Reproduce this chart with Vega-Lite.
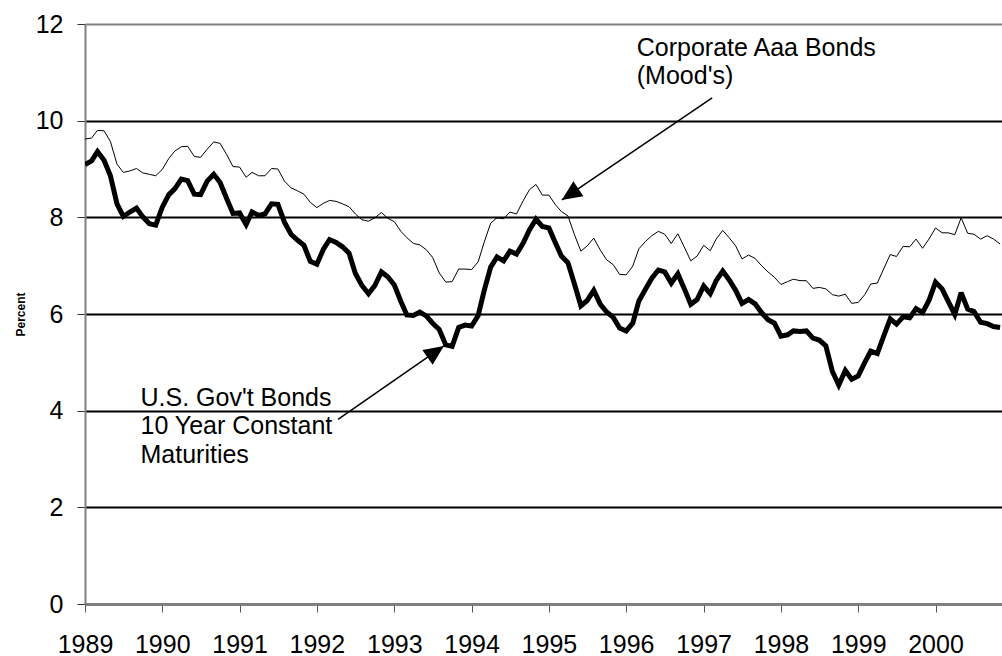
{
  "$schema": "https://vega.github.io/schema/vega-lite/v6.json",
  "width": 917,
  "height": 580,
  "autosize": {"type": "none"},
  "padding": {"left": 85, "top": 24, "right": 0, "bottom": 52},
  "background": "white",
  "config": {
    "font": "Liberation Sans",
    "view": {"stroke": null},
    "axis": {"labelColor": "black", "titleColor": "black", "labelFont": "Liberation Sans", "titleFont": "Liberation Sans"}
  },
  "datasets": {
    "series": [
      {"date":"1989-01-01","gov":9.09,"aaa":9.62},{"date":"1989-02-01","gov":9.17,"aaa":9.64},{"date":"1989-03-01","gov":9.36,"aaa":9.80},{"date":"1989-04-01","gov":9.18,"aaa":9.79},{"date":"1989-05-01","gov":8.86,"aaa":9.57},{"date":"1989-06-01","gov":8.28,"aaa":9.10},{"date":"1989-07-01","gov":8.02,"aaa":8.93},{"date":"1989-08-01","gov":8.11,"aaa":8.96},{"date":"1989-09-01","gov":8.19,"aaa":9.01},{"date":"1989-10-01","gov":8.01,"aaa":8.92},{"date":"1989-11-01","gov":7.87,"aaa":8.89},{"date":"1989-12-01","gov":7.84,"aaa":8.86},
      {"date":"1990-01-01","gov":8.21,"aaa":8.99},{"date":"1990-02-01","gov":8.47,"aaa":9.22},{"date":"1990-03-01","gov":8.59,"aaa":9.37},{"date":"1990-04-01","gov":8.79,"aaa":9.46},{"date":"1990-05-01","gov":8.76,"aaa":9.47},{"date":"1990-06-01","gov":8.48,"aaa":9.26},{"date":"1990-07-01","gov":8.47,"aaa":9.24},{"date":"1990-08-01","gov":8.75,"aaa":9.41},{"date":"1990-09-01","gov":8.89,"aaa":9.56},{"date":"1990-10-01","gov":8.72,"aaa":9.53},{"date":"1990-11-01","gov":8.39,"aaa":9.30},{"date":"1990-12-01","gov":8.08,"aaa":9.05},
      {"date":"1991-01-01","gov":8.09,"aaa":9.04},{"date":"1991-02-01","gov":7.85,"aaa":8.83},{"date":"1991-03-01","gov":8.11,"aaa":8.93},{"date":"1991-04-01","gov":8.04,"aaa":8.86},{"date":"1991-05-01","gov":8.07,"aaa":8.86},{"date":"1991-06-01","gov":8.28,"aaa":9.01},{"date":"1991-07-01","gov":8.27,"aaa":9.00},{"date":"1991-08-01","gov":7.90,"aaa":8.75},{"date":"1991-09-01","gov":7.65,"aaa":8.61},{"date":"1991-10-01","gov":7.53,"aaa":8.55},{"date":"1991-11-01","gov":7.42,"aaa":8.48},{"date":"1991-12-01","gov":7.09,"aaa":8.31},
      {"date":"1992-01-01","gov":7.03,"aaa":8.20},{"date":"1992-02-01","gov":7.34,"aaa":8.29},{"date":"1992-03-01","gov":7.54,"aaa":8.35},{"date":"1992-04-01","gov":7.48,"aaa":8.33},{"date":"1992-05-01","gov":7.39,"aaa":8.28},{"date":"1992-06-01","gov":7.26,"aaa":8.22},{"date":"1992-07-01","gov":6.84,"aaa":8.07},{"date":"1992-08-01","gov":6.59,"aaa":7.95},{"date":"1992-09-01","gov":6.42,"aaa":7.92},{"date":"1992-10-01","gov":6.59,"aaa":7.99},{"date":"1992-11-01","gov":6.87,"aaa":8.10},{"date":"1992-12-01","gov":6.77,"aaa":7.98},
      {"date":"1993-01-01","gov":6.60,"aaa":7.91},{"date":"1993-02-01","gov":6.26,"aaa":7.71},{"date":"1993-03-01","gov":5.98,"aaa":7.58},{"date":"1993-04-01","gov":5.97,"aaa":7.46},{"date":"1993-05-01","gov":6.04,"aaa":7.43},{"date":"1993-06-01","gov":5.96,"aaa":7.33},{"date":"1993-07-01","gov":5.81,"aaa":7.17},{"date":"1993-08-01","gov":5.68,"aaa":6.85},{"date":"1993-09-01","gov":5.36,"aaa":6.66},{"date":"1993-10-01","gov":5.33,"aaa":6.67},{"date":"1993-11-01","gov":5.72,"aaa":6.93},{"date":"1993-12-01","gov":5.77,"aaa":6.93},
      {"date":"1994-01-01","gov":5.75,"aaa":6.92},{"date":"1994-02-01","gov":5.97,"aaa":7.08},{"date":"1994-03-01","gov":6.48,"aaa":7.48},{"date":"1994-04-01","gov":6.97,"aaa":7.88},{"date":"1994-05-01","gov":7.18,"aaa":7.99},{"date":"1994-06-01","gov":7.10,"aaa":7.97},{"date":"1994-07-01","gov":7.30,"aaa":8.11},{"date":"1994-08-01","gov":7.24,"aaa":8.07},{"date":"1994-09-01","gov":7.46,"aaa":8.34},{"date":"1994-10-01","gov":7.74,"aaa":8.57},{"date":"1994-11-01","gov":7.96,"aaa":8.68},{"date":"1994-12-01","gov":7.81,"aaa":8.46},
      {"date":"1995-01-01","gov":7.78,"aaa":8.46},{"date":"1995-02-01","gov":7.47,"aaa":8.26},{"date":"1995-03-01","gov":7.20,"aaa":8.12},{"date":"1995-04-01","gov":7.06,"aaa":8.03},{"date":"1995-05-01","gov":6.63,"aaa":7.65},{"date":"1995-06-01","gov":6.17,"aaa":7.30},{"date":"1995-07-01","gov":6.28,"aaa":7.41},{"date":"1995-08-01","gov":6.49,"aaa":7.57},{"date":"1995-09-01","gov":6.20,"aaa":7.32},{"date":"1995-10-01","gov":6.04,"aaa":7.12},{"date":"1995-11-01","gov":5.93,"aaa":7.02},{"date":"1995-12-01","gov":5.71,"aaa":6.82},
      {"date":"1996-01-01","gov":5.65,"aaa":6.81},{"date":"1996-02-01","gov":5.81,"aaa":6.99},{"date":"1996-03-01","gov":6.27,"aaa":7.35},{"date":"1996-04-01","gov":6.51,"aaa":7.50},{"date":"1996-05-01","gov":6.74,"aaa":7.62},{"date":"1996-06-01","gov":6.91,"aaa":7.71},{"date":"1996-07-01","gov":6.87,"aaa":7.65},{"date":"1996-08-01","gov":6.64,"aaa":7.46},{"date":"1996-09-01","gov":6.83,"aaa":7.66},{"date":"1996-10-01","gov":6.53,"aaa":7.39},{"date":"1996-11-01","gov":6.20,"aaa":7.10},{"date":"1996-12-01","gov":6.30,"aaa":7.20},
      {"date":"1997-01-01","gov":6.58,"aaa":7.42},{"date":"1997-02-01","gov":6.42,"aaa":7.31},{"date":"1997-03-01","gov":6.69,"aaa":7.55},{"date":"1997-04-01","gov":6.89,"aaa":7.73},{"date":"1997-05-01","gov":6.71,"aaa":7.58},{"date":"1997-06-01","gov":6.49,"aaa":7.41},{"date":"1997-07-01","gov":6.22,"aaa":7.14},{"date":"1997-08-01","gov":6.30,"aaa":7.22},{"date":"1997-09-01","gov":6.21,"aaa":7.15},{"date":"1997-10-01","gov":6.03,"aaa":7.00},{"date":"1997-11-01","gov":5.88,"aaa":6.87},{"date":"1997-12-01","gov":5.81,"aaa":6.76},
      {"date":"1998-01-01","gov":5.54,"aaa":6.61},{"date":"1998-02-01","gov":5.57,"aaa":6.67},{"date":"1998-03-01","gov":5.65,"aaa":6.72},{"date":"1998-04-01","gov":5.64,"aaa":6.69},{"date":"1998-05-01","gov":5.65,"aaa":6.69},{"date":"1998-06-01","gov":5.50,"aaa":6.53},{"date":"1998-07-01","gov":5.46,"aaa":6.55},{"date":"1998-08-01","gov":5.34,"aaa":6.52},{"date":"1998-09-01","gov":4.81,"aaa":6.40},{"date":"1998-10-01","gov":4.53,"aaa":6.37},{"date":"1998-11-01","gov":4.83,"aaa":6.41},{"date":"1998-12-01","gov":4.65,"aaa":6.22},
      {"date":"1999-01-01","gov":4.72,"aaa":6.24},{"date":"1999-02-01","gov":5.00,"aaa":6.40},{"date":"1999-03-01","gov":5.23,"aaa":6.62},{"date":"1999-04-01","gov":5.18,"aaa":6.64},{"date":"1999-05-01","gov":5.54,"aaa":6.93},{"date":"1999-06-01","gov":5.90,"aaa":7.23},{"date":"1999-07-01","gov":5.79,"aaa":7.19},{"date":"1999-08-01","gov":5.94,"aaa":7.40},{"date":"1999-09-01","gov":5.92,"aaa":7.39},{"date":"1999-10-01","gov":6.11,"aaa":7.55},{"date":"1999-11-01","gov":6.03,"aaa":7.36},{"date":"1999-12-01","gov":6.28,"aaa":7.55},
      {"date":"2000-01-01","gov":6.66,"aaa":7.78},{"date":"2000-02-01","gov":6.52,"aaa":7.68},{"date":"2000-03-01","gov":6.26,"aaa":7.68},{"date":"2000-04-01","gov":5.99,"aaa":7.64},{"date":"2000-05-01","gov":6.44,"aaa":7.99},{"date":"2000-06-01","gov":6.10,"aaa":7.67},{"date":"2000-07-01","gov":6.05,"aaa":7.65},{"date":"2000-08-01","gov":5.83,"aaa":7.55},{"date":"2000-09-01","gov":5.80,"aaa":7.62},{"date":"2000-10-01","gov":5.74,"aaa":7.55},{"date":"2000-11-01","gov":5.72,"aaa":7.45}
    ],
    "notes": [
      {"date":"1996-02-20","value":11.34,"label":"Corporate Aaa Bonds\n(Mood's)"},
      {"date":"1989-09-20","value":4.10,"label":"U.S. Gov't Bonds\n10 Year Constant\nMaturities"}
    ],
    "arrows": [
      {"id":"aaa","date":"1997-02-10","value":10.47,"date2":"1995-03-03","value2":8.36},
      {"id":"gov","date":"1992-04-10","value":3.82,"date2":"1993-08-23","value2":5.34}
    ]
  },
  "encoding": {
    "x": {
      "field": "date",
      "type": "temporal",
      "scale": {"type": "utc", "domain": [{"year": 1989, "month": 1, "date": 1, "utc": true}, {"year": 2000, "month": 11, "date": 10, "utc": true}]},
      "axis": {
        "values": [
          {"year":1989,"utc":true},{"year":1990,"utc":true},{"year":1991,"utc":true},{"year":1992,"utc":true},{"year":1993,"utc":true},{"year":1994,"utc":true},{"year":1995,"utc":true},{"year":1996,"utc":true},{"year":1997,"utc":true},{"year":1998,"utc":true},{"year":1999,"utc":true},{"year":2000,"utc":true}
        ],
        "format": "%Y",
        "title": null,
        "grid": false,
        "labelFontSize": 25,
        "labelPadding": 20,
        "labelFlush": false,
        "labelOverlap": false,
        "tickSize": 8,
        "tickColor": "#555555",
        "tickWidth": 1,
        "domainColor": "#808080",
        "domainWidth": 2
      }
    }
  },
  "layer": [
    {
      "data": {"name": "series"},
      "mark": {"type": "line", "color": "black", "strokeWidth": 5, "clip": true, "strokeJoin": "miter", "strokeMiterLimit": 3},
      "encoding": {
        "y": {
          "field": "gov",
          "type": "quantitative",
          "scale": {"domain": [0, 12], "nice": false, "zero": true},
          "axis": {
            "values": [0, 2, 4, 6, 8, 10, 12],
            "title": "Percent",
            "titleFontSize": 12,
            "titleFontWeight": "bold",
            "titlePadding": 8,
            "labelFontSize": 25,
            "labelPadding": 14,
            "tickSize": 8,
            "tickColor": "#333333",
            "tickWidth": 1,
            "domainColor": "#808080",
            "domainWidth": 2,
            "grid": true,
            "gridWidth": 2,
            "gridOpacity": 1,
            "gridColor": {"condition": {"test": "datum.value == 12", "value": "#808080"}, "value": "black"}
          }
        }
      }
    },
    {
      "data": {"name": "series"},
      "mark": {"type": "line", "color": "black", "strokeWidth": 1, "clip": true},
      "encoding": {
        "y": {"field": "aaa", "type": "quantitative"}
      }
    },
    {
      "data": {"name": "notes"},
      "mark": {"type": "text", "align": "left", "baseline": "alphabetic", "fontSize": 25, "lineBreak": "\n", "lineHeight": 28.5, "color": "black"},
      "encoding": {
        "y": {"field": "value", "type": "quantitative"},
        "text": {"field": "label"}
      }
    },
    {
      "data": {"name": "arrows"},
      "mark": {"type": "rule", "color": "black", "strokeWidth": 1.5},
      "encoding": {
        "y": {"field": "value", "type": "quantitative"},
        "x2": {"field": "date2"},
        "y2": {"field": "value2"}
      }
    },
    {
      "data": {"name": "arrows"},
      "transform": [{"filter": "datum.id == 'aaa'"}],
      "mark": {"type": "point", "shape": "M0,0L-0.45,1L0.45,1Z", "filled": true, "color": "black", "opacity": 1, "size": 1600, "angle": 236},
      "encoding": {
        "x": {"field": "date2", "type": "temporal"},
        "y": {"field": "value2", "type": "quantitative"}
      }
    },
    {
      "data": {"name": "arrows"},
      "transform": [{"filter": "datum.id == 'gov'"}],
      "mark": {"type": "point", "shape": "M0,0L-0.45,1L0.45,1Z", "filled": true, "color": "black", "opacity": 1, "size": 1600, "angle": 55},
      "encoding": {
        "x": {"field": "date2", "type": "temporal"},
        "y": {"field": "value2", "type": "quantitative"}
      }
    }
  ]
}
